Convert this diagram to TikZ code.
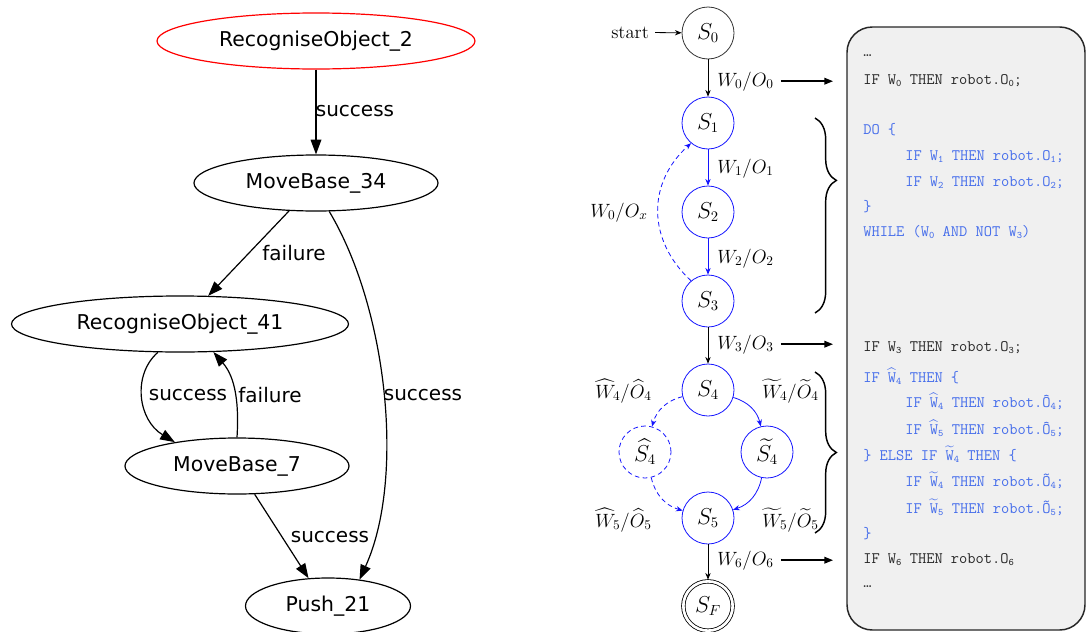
\documentclass[tikz,border=0pt]{standalone}
\usepackage{fontspec}
\usepackage{amsmath}
\usetikzlibrary{arrows.meta,shapes.geometric,decorations.pathreplacing}
\newfontfamily\gvfont{DejaVu Sans}
\definecolor{stateblue}{RGB}{20,20,255}
\definecolor{codeblue}{RGB}{70,110,235}
\definecolor{codegray}{RGB}{40,40,40}
\definecolor{panelfill}{RGB}{240,240,240}
\newcommand\csub[1]{\raisebox{-0.3ex}{\fontsize{7.5}{8}\selectfont #1}}
\newcommand\hatW{$\widehat{\text{W}}$}
\newcommand\tildeW{$\widetilde{\text{W}}$}
\begin{document}
\begin{tikzpicture}[x=0.75pt,y=-0.75pt,
  gvnode/.style={ellipse, draw, line width=0.9pt, inner sep=0pt,
    minimum height=42pt, font=\gvfont\fontsize{15.3}{18}\selectfont},
  gvedge/.style={line width=0.9pt, -{Triangle[length=11pt,width=8pt]}},
  gvlabel/.style={inner sep=0pt, font=\gvfont\fontsize{15}{18}\selectfont},
  state/.style={circle, draw=black!80, minimum size=39pt, inner sep=0pt,
    line width=0.6pt, font=\fontsize{16}{18}\selectfont},
  bluestate/.style={state, draw=stateblue},
  trans/.style={line width=0.6pt, -{Stealth[length=5pt,width=4pt]}},
  bluetrans/.style={trans, stateblue},
  dashtrans/.style={bluetrans, dash pattern=on 3.5pt off 2.5pt},
  mlabel/.style={inner sep=0pt, anchor=base west, text=black,
    font=\fontsize{14}{16}\selectfont},
  codearrow/.style={line width=1.1pt, -{Triangle[length=6.5pt,width=5pt]}},
  codeline/.style={inner sep=0pt, anchor=base west,
    font=\ttfamily\fontsize{12}{14}\selectfont, text=codegray},
  codeblueline/.style={codeline, text=codeblue},
  bracestyle/.style={decorate, line width=1.1pt}
]
\useasboundingbox (0,0) rectangle (1086,632);

% ---------- behaviour tree (left) ----------
\node[gvnode, draw=red, minimum width=238.5pt] (ro2) at (316,41) {RecogniseObject\_2};
\node[gvnode, minimum width=183pt] (mb34) at (316,183) {MoveBase\_34};
\node[gvnode, minimum width=252.75pt] (ro41) at (180,324) {RecogniseObject\_41};
\node[gvnode, minimum width=168pt] (mb7) at (237,466) {MoveBase\_7};
\node[gvnode, minimum width=123.75pt] (push) at (328,606) {Push\_21};

\draw[gvedge] (ro2) -- (mb34) node[gvlabel] (e1) at (355,111) {success};
\draw[gvedge] (mb34.-134) -- (ro41.45) node[gvlabel] (e2) at (294,253) {failure};
\draw[gvedge] (mb34.-65) .. controls (388,310) and (405,480) .. (push.40)
  node[gvlabel] (e3) at (423,395) {success};
\draw[gvedge] (ro41.-128) .. controls (132,375) and (138,420) .. (mb7.159)
  node[gvlabel] (e4) at (188,395) {success};
\draw[gvedge] (mb7.north) .. controls (239,405) and (236,378) .. (ro41.-40)
  node[gvlabel] (e5) at (270,395) {failure};
\draw[gvedge] (mb7.-58) -- (push.125) node[gvlabel] (e6) at (330,537) {success};

% ---------- automaton (middle) ----------
\node[state] (s0) at (708,33) {$S_0$};
\node[bluestate] (s1) at (708,123) {$S_1$};
\node[bluestate] (s2) at (708,212) {$S_2$};
\node[bluestate] (s3) at (708,301) {$S_3$};
\node[bluestate] (s4) at (708,390) {$S_4$};
\node[bluestate, dash pattern=on 3.5pt off 2.5pt] (s4h) at (645,452) {$\widehat{S_4}$};
\node[bluestate] (s4t) at (767,452) {$\widetilde{S_4}$};
\node[bluestate] (s5) at (708,518) {$S_5$};
\node[state, draw=black, double, double distance=2pt, minimum size=37pt] (sf) at (708,606) {$S_F$};

\node[mlabel] (st) at (611,38) {start};
\draw[trans, shorten <=4.5pt] (st) -- (s0);
\draw[trans] (s0) -- (s1) node[mlabel] (l0) at (717,86) {$W_0/O_0$};
\draw[bluetrans] (s1) -- (s2) node[mlabel] (l1) at (717,173) {$W_1/O_1$};
\draw[bluetrans] (s2) -- (s3) node[mlabel] (l2) at (717,263) {$W_2/O_2$};
\draw[dashtrans] (s3.130) .. controls (647,240) and (647,183) .. (s1.230)
  node[mlabel] (lx) at (590,217) {$W_0/O_x$};
\draw[trans] (s3) -- (s4) node[mlabel] (l3) at (717,349) {$W_3/O_3$};
\draw[dashtrans] (s4) to[bend right=30] (s4h)
  node[mlabel] (l4h) at (595,398) {$\widehat{W}_4/\widehat{O}_4$};
\draw[bluetrans] (s4) to[bend left=30] (s4t)
  node[mlabel] (l4t) at (762,398) {$\widetilde{W}_4/\widetilde{O}_4$};
\draw[dashtrans] (s4h) to[bend right=30] (s5)
  node[mlabel] (l5h) at (595,527) {$\widehat{W}_5/\widehat{O}_5$};
\draw[bluetrans] (s4t) to[bend left=30] (s5)
  node[mlabel] (l5t) at (762,527) {$\widetilde{W}_5/\widetilde{O}_5$};
\draw[trans, shorten >=1pt] (s5) -- (sf) node[mlabel] (l6) at (717,565) {$W_6/O_6$};

% braces grouping the loop and the branch
\draw[bracestyle, decoration={brace, amplitude=16pt, aspect=0.32}] (815,118) -- (815,313);
\draw[bracestyle, decoration={brace, amplitude=16pt, aspect=0.5}] (815,372) -- (815,533);

% ---------- generated program (right) ----------
\draw[fill=panelfill, draw=black!85, line width=1.1pt, rounded corners=19pt]
  (847,27) rectangle (1085,630);

\node[codeline] (c0) at (863,56) {…};
\node[codeline] (c1) at (863,84) {IF W\csub{0} THEN robot.O\csub{0};};
\node[codeblueline] (c2) at (863,134) {DO \{};
\node[codeblueline] (c3) at (905,160) {IF W\csub{1} THEN robot.O\csub{1};};
\node[codeblueline] (c4) at (905,186) {IF W\csub{2} THEN robot.O\csub{2};};
\node[codeblueline] (c5) at (863,211) {\}};
\node[codeblueline] (c6) at (863,236) {WHILE (W\csub{0} AND NOT W\csub{3})};
\node[codeline] (c7) at (863,351) {IF W\csub{3} THEN robot.O\csub{3};};
\node[codeblueline] (c8) at (863,382) {IF \hatW\csub{4} THEN \{};
\node[codeblueline] (c9) at (905,407) {IF \hatW\csub{4} THEN robot.\^{O}\csub{4};};
\node[codeblueline] (c10) at (905,434) {IF \hatW\csub{5} THEN robot.\^{O}\csub{5};};
\node[codeblueline] (c11) at (863,460) {\} ELSE IF \tildeW\csub{4} THEN \{};
\node[codeblueline] (c12) at (905,486) {IF \tildeW\csub{4} THEN robot.\~{O}\csub{4};};
\node[codeblueline] (c13) at (905,513) {IF \tildeW\csub{5} THEN robot.\~{O}\csub{5};};
\node[codeblueline] (c14) at (863,538) {\}};
\node[codeline] (c15) at (863,563) {IF W\csub{6} THEN robot.O\csub{6}};
\node[codeline] (c16) at (863,587) {…};

% transitions pointing at the statements they produce
\draw[codearrow, shorten <=5.25pt, shorten >=22.5pt] (l0.east) -- (l0.east -| c1.west);
\draw[codearrow, shorten <=5.25pt, shorten >=22.5pt] (l3.east) -- (l3.east -| c7.west);
\draw[codearrow, shorten <=5.25pt, shorten >=22.5pt] (l6.east) -- (l6.east -| c15.west);
\end{tikzpicture}
\end{document}
